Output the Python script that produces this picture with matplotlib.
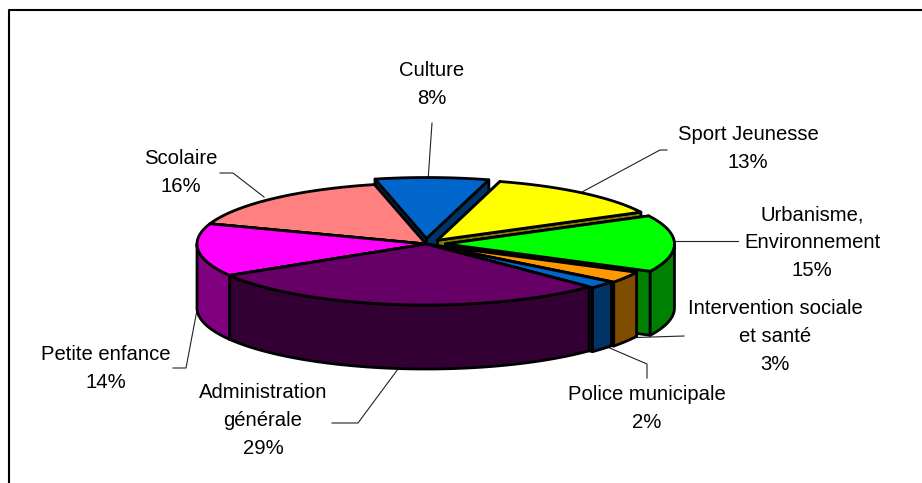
import numpy as np
import matplotlib
matplotlib.use("Agg")
import matplotlib.pyplot as plt
from matplotlib.patches import Polygon

plt.rcParams['font.family'] = ['Liberation Sans', 'DejaVu Sans']

# Data, clockwise from the start angle
categories = ["Culture", "Sport Jeunesse", "Urbanisme,\nEnvironnement",
              "Intervention sociale\net santé", "Police municipale",
              "Administration\ngénérale", "Petite enfance", "Scolaire"]
values = [8, 13, 15, 3, 2, 29, 14, 16]
explode = [0.09, 0.08, 0.085, 0.03, 0.02, 0.0, 0.0, 0.0]
top_colors = ["#0066CC", "#FFFF00", "#00FF00", "#FF9900", "#0066CC", "#660066", "#FF00FF", "#FF8080"]
side_colors = ["#003366", "#808000", "#008000", "#804C00", "#003366", "#330033", "#800080", "#804040"]
label_xy = [(432, 85), (748, 149), (812, 243), (775, 336), (647, 408), (263, 421), (106, 368), (181, 172)]
leaders = [[(432, 123), (428, 181)],
           [(667, 150), (660, 150), (582, 192)],
           [(675, 241), (738, 241)],
           [(620, 338), (684, 336)],
           [(605, 346), (647, 364), (647, 378)],
           [(398, 369), (358, 423), (332, 423)],
           [(197, 310), (186, 368), (173, 368)],
           [(220, 173), (233, 173), (264, 197)]]

START = -13.0
CX, CY = 426.0, 244.0
RX, RY = 229.0, 61.0
DEPTH = 64.0
EDGE = 2.0

fig = plt.figure(figsize=(9.22, 4.83), dpi=100)
ax = fig.add_axes([0, 0, 1, 1])
ax.set_xlim(0, 922)
ax.set_ylim(483, 0)
ax.axis('off')

# Chart frame: only the top and left edges fall inside the picture
ax.plot([9, 9, 922], [483, 10, 10], color='black', lw=1.5, zorder=1)

cum = START + np.concatenate([[0], np.cumsum(values)]) * 3.6
draw_order = [0, 7, 1, 6, 2, 3, 4, 5]
z = 2
for i in draw_order:
    a0, a1 = cum[i], cum[i + 1]
    mid = np.radians((a0 + a1) / 2)
    cx = CX + explode[i] * RX * np.sin(mid)
    cy = CY - explode[i] * RY * np.cos(mid)
    t = np.radians(np.linspace(a0, a1, 80))
    arc_x = cx + RX * np.sin(t)
    arc_y = cy - RY * np.cos(t)
    # radial walls
    for ex, ey in ((arc_x[0], arc_y[0]), (arc_x[-1], arc_y[-1])):
        ax.add_patch(Polygon([(cx, cy), (ex, ey), (ex, ey + DEPTH), (cx, cy + DEPTH)],
                             fc=side_colors[i], ec='black', lw=EDGE, joinstyle='round', zorder=z))
    # outer wall, front-facing part of the arc only
    f0, f1 = max(a0, 90.0), min(a1, 270.0)
    if f1 > f0:
        ft = np.radians(np.linspace(f0, f1, 80))
        fx = cx + RX * np.sin(ft)
        fy = cy - RY * np.cos(ft)
        ax.add_patch(Polygon(np.c_[np.r_[fx, fx[::-1]], np.r_[fy, fy[::-1] + DEPTH]],
                             fc=side_colors[i], ec='black', lw=EDGE, joinstyle='round', zorder=z + 0.2))
    # top face
    ax.add_patch(Polygon(np.c_[np.r_[cx, arc_x], np.r_[cy, arc_y]], fc=top_colors[i], ec='black',
                         lw=EDGE, joinstyle='round', zorder=z + 0.5))
    z += 1

for pts in leaders:
    xs, ys = zip(*pts)
    ax.plot(xs, ys, color='#222222', lw=0.8, zorder=1.5)

for name, v, (x, y) in zip(categories, values, label_xy):
    ax.text(x, y, f"{name}\n{v}%", ha='center', va='center', fontsize=14.6,
            color='black', linespacing=1.6, zorder=30)

fig.savefig("out.png", dpi=100)
